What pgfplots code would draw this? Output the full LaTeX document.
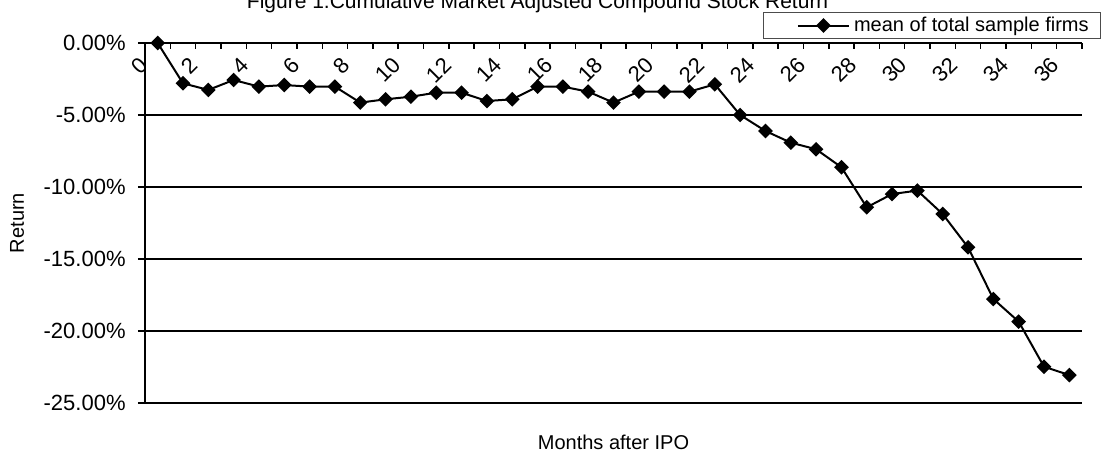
\documentclass[border=0pt]{standalone}
\usepackage{fontspec}
\setmainfont{Liberation Sans}
\usepackage{pgfplots}
\pgfplotsset{compat=1.18}

\begin{document}
\begin{tikzpicture}
\begin{axis}[
  scale only axis,
  width=468.5pt, height=180pt,
  xmin=-0.5, xmax=36.5,
  ymin=-25, ymax=0,
  axis x line=top, axis y line=left,
  axis line style={-, line width=0.75pt},
  xtick={0,2,...,36},
  xticklabels={0,2,4,6,8,10,12,14,16,18,20,22,24,26,28,30,32,34,36},
  major x tick style={draw=none},
  minor xtick={-0.5,0.5,...,36.5},
  minor x tick style={black, line width=0.75pt},
  minor tick length=-3pt,
  xtick align=outside,
  xticklabel style={font=\fontsize{11}{13}\selectfont, inner sep=0pt,
    xshift=-7pt, yshift=-12.5pt, rotate=45, anchor=east},
  ytick={-25,-20,-15,-10,-5,0},
  yticklabels={-25.00\%,-20.00\%,-15.00\%,-10.00\%,-5.00\%,0.00\%},
  ytick align=outside,
  major tick length=3.5pt,
  major y tick style={black, line width=0.75pt},
  yticklabel style={font=\fontsize{11}{13}\selectfont, inner sep=0pt, xshift=-6pt},
  ymajorgrids,
  grid style={black, line width=0.75pt},
  legend style={at={(1.0205,1.0856)}, anchor=north east, draw=black!70,
    line width=0.6pt, inner xsep=4pt, inner ysep=0.5pt,
    nodes={inner ysep=1.5pt},
    font=\fontsize{10}{12}\selectfont},
  legend image code/.code={%
    \path (-0.45cm,0cm);
    \draw[mark repeat=2, mark phase=2] plot coordinates {(0cm,0cm) (0.45cm,0cm) (0.9cm,0cm)};},
  clip=false,
]
\addplot[black, line width=1pt, mark=square*, mark size=2.1pt,
  mark options={rotate=45, solid}] coordinates {
  (0,0.00) (1,-2.80) (2,-3.26) (3,-2.57) (4,-3.03) (5,-2.92) (6,-3.03)
  (7,-3.03) (8,-4.14) (9,-3.91) (10,-3.73) (11,-3.45) (12,-3.45)
  (13,-4.03) (14,-3.91) (15,-3.03) (16,-3.03) (17,-3.38) (18,-4.14)
  (19,-3.38) (20,-3.38) (21,-3.38) (22,-2.87) (23,-5.00) (24,-6.11)
  (25,-6.92) (26,-7.38) (27,-8.63) (28,-11.41) (29,-10.49) (30,-10.25)
  (31,-11.88) (32,-14.19) (33,-17.78) (34,-19.35) (35,-22.48) (36,-23.06)
};
\addlegendentry{mean of total sample firms}

\node[font=\fontsize{10.5}{12}\selectfont, anchor=base]
  at (axis description cs:0.419,1.097)
  {Figure 1.Cumulative Market Adjusted Compound Stock Return};
\node[font=\fontsize{10}{12}\selectfont, rotate=90]
  at (axis description cs:-0.1366,0.5) {Return};
\node[font=\fontsize{10}{12}\selectfont]
  at (axis description cs:0.5,-0.108) {Months after IPO};

\coordinate (frameSW) at (rel axis cs:0,0);
\coordinate (frameNE) at (rel axis cs:1,1);
\end{axis}
\pgfresetboundingbox
\useasboundingbox ([shift={(-72.5pt,-24.5pt)}]frameSW)
  rectangle ([shift={(12.5pt,21.5pt)}]frameNE);
\end{tikzpicture}
\end{document}
